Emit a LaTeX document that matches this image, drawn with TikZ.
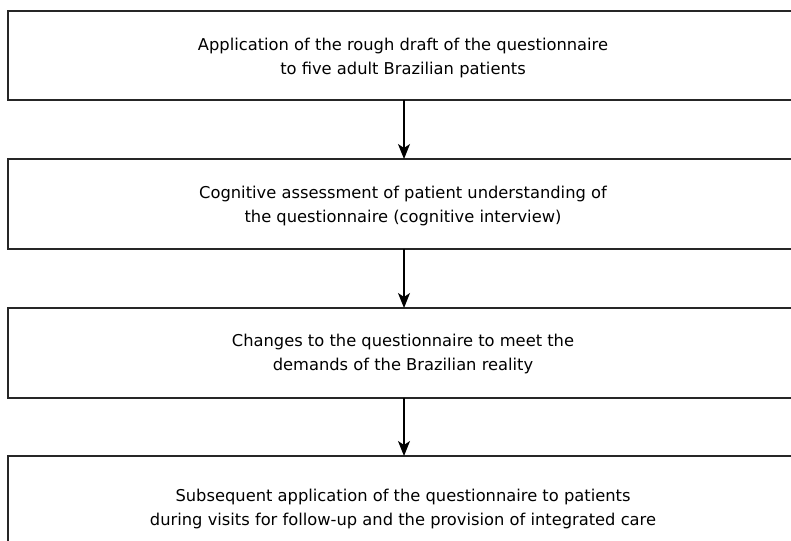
\documentclass[tikz,border=0pt]{standalone}
\usepackage{fontspec}
\setmainfont{DejaVu Sans}
\usetikzlibrary{arrows.meta}
\begin{document}
\begin{tikzpicture}[x=1pt,y=-1pt,
  stepbox/.style={draw=black!85, line width=2pt, fill=white},
  steptext/.style={align=center, font=\fontsize{16.3}{24}\selectfont, inner sep=0pt, text=black},
  flow/.style={line width=1.4pt, -{Stealth[length=15pt,width=12pt,inset=4pt]}}]
\useasboundingbox (0,0) rectangle (791,540);
\clip (0,0) rectangle (791,540);
\fill[white] (0,0) rectangle (791,540);
\draw[stepbox] (8,11) rectangle (800,100);
\draw[stepbox] (8,159) rectangle (800,249);
\draw[stepbox] (8,308) rectangle (800,398);
\draw[stepbox] (8,456) rectangle (800,565);
\coordinate (b1) at (404,100);
\coordinate (t2) at (404,159);
\coordinate (b2) at (404,249);
\coordinate (t3) at (404,308);
\coordinate (b3) at (404,398);
\coordinate (t4) at (404,456);
\node[steptext] (s1) at (403,58) {Application of the rough draft of the questionnaire\\to five adult Brazilian patients};
\node[steptext] (s2) at (403,206) {Cognitive assessment of patient understanding of\\the questionnaire (cognitive interview)};
\node[steptext] (s3) at (403,354) {Changes to the questionnaire to meet the\\demands of the Brazilian reality};
\node[steptext] (s4) at (403,509) {Subsequent application of the questionnaire to patients\\during visits for follow-up and the provision of integrated care};
\draw[flow] (b1) -- (t2);
\draw[flow] (b2) -- (t3);
\draw[flow] (b3) -- (t4);
\end{tikzpicture}
\end{document}
